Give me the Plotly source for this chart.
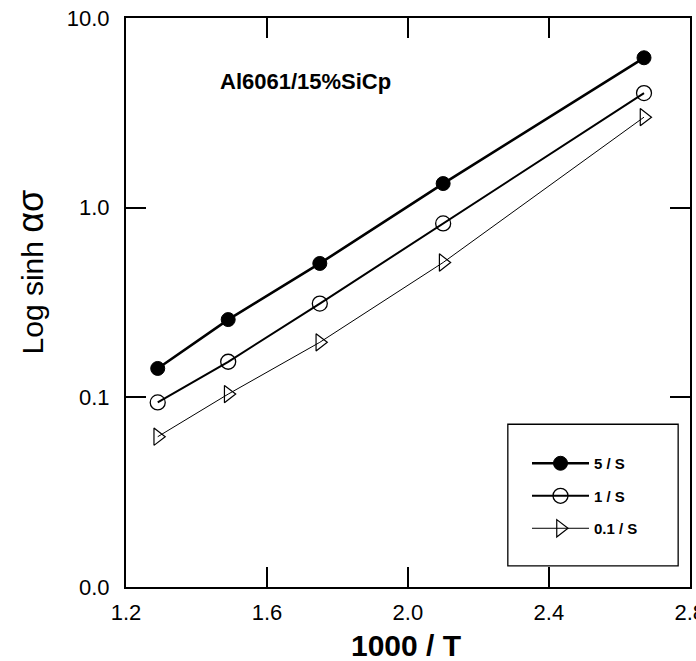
import plotly.graph_objects as go

# Data
x_inv_T = [1.29, 1.49, 1.75, 2.10, 2.67]
y_5 = [0.142, 0.257, 0.508, 1.34, 6.17]
y_1 = [0.094, 0.154, 0.312, 0.826, 4.02]
y_01 = [0.062, 0.104, 0.195, 0.514, 3.0]

series_names = ["5 / S", "1 / S", "0.1 / S"]
x_ticks = [1.2, 1.6, 2.0, 2.4, 2.8]
x_ticktext = ["1.2", "1.6", "2.0", "2.4", "2.8"]
y_ticks = [0.01, 0.1, 1, 10]
y_ticktext = ["0.0", "0.1", "1.0", "10.0"]

FONT = "Liberation Sans, Arial, sans-serif"

fig = go.Figure()
fig.add_trace(go.Scatter(
    x=x_inv_T, y=y_5, name=series_names[0], mode="lines+markers", legendgroup="a",
    line=dict(color="black", width=2.6),
    marker=dict(symbol="circle", size=14, color="black", line=dict(color="black", width=1)),
))
fig.add_trace(go.Scatter(
    x=x_inv_T, y=y_1, name=series_names[1], mode="lines+markers", legendgroup="b",
    line=dict(color="black", width=2.0),
    marker=dict(symbol="circle-open", size=15, color="black", line=dict(color="black", width=1.3)),
))
fig.add_trace(go.Scatter(
    x=x_inv_T, y=y_01, name=series_names[2], mode="lines+markers", legendgroup="c",
    line=dict(color="black", width=1.0),
    marker=dict(symbol="triangle-right-open", size=15, color="black", line=dict(color="black", width=1.2)),
))

axis_common = dict(
    showline=True, linecolor="black", linewidth=2, mirror="ticks",
    ticks="inside", ticklen=20, tickwidth=1.6, tickcolor="black",
    showgrid=False, zeroline=False, automargin=False,
    tickfont=dict(family=FONT, size=22, color="black"),
    ticklabeloverflow="allow",
)

fig.update_xaxes(range=[1.2, 2.8005], tickvals=x_ticks, ticktext=x_ticktext,
                 ticklabelstandoff=5, **axis_common)
fig.update_yaxes(type="log", range=[-2, 1], tickvals=y_ticks, ticktext=y_ticktext,
                 ticklabelstandoff=10, **axis_common)

# legend box
fig.add_shape(type="rect", xref="paper", yref="paper",
              x0=0.677, x1=0.979, y0=0.037, y1=0.286,
              line=dict(color="black", width=1.3), fillcolor="white", layer="below")

fig.add_annotation(text="Al6061/15%SiCp", xref="paper", yref="paper",
                   x=0.163, y=0.888, xanchor="left", yanchor="middle", showarrow=False,
                   font=dict(family=FONT, size=22, color="black", weight="bold"))
fig.add_annotation(text="Log sinh <span style='font-size:36px'>ασ</span>", xref="paper", yref="paper",
                   x=-0.170, y=0.553, xanchor="center", yanchor="middle", showarrow=False,
                   textangle=-90, font=dict(family=FONT, size=30, color="black"))
fig.add_annotation(text="1000 / T", xref="paper", yref="paper",
                   x=0.496, y=-0.102, xanchor="center", yanchor="middle", showarrow=False,
                   font=dict(family=FONT, size=30, color="black", weight="bold"))

fig.update_layout(
    width=696, height=661,
    margin=dict(l=126, r=6, t=18, b=74),
    paper_bgcolor="white", plot_bgcolor="white",
    showlegend=True,
    legend=dict(x=0.711, y=0.246, xanchor="left", yanchor="top",
                bgcolor="rgba(0,0,0,0)", borderwidth=0,
                itemwidth=57, tracegroupgap=10,
                font=dict(family=FONT, size=15, color="black", weight="bold")),
)

fig.write_html("out.html", config={"displayModeBar": False},
               post_script="document.body.style.margin='0';")
